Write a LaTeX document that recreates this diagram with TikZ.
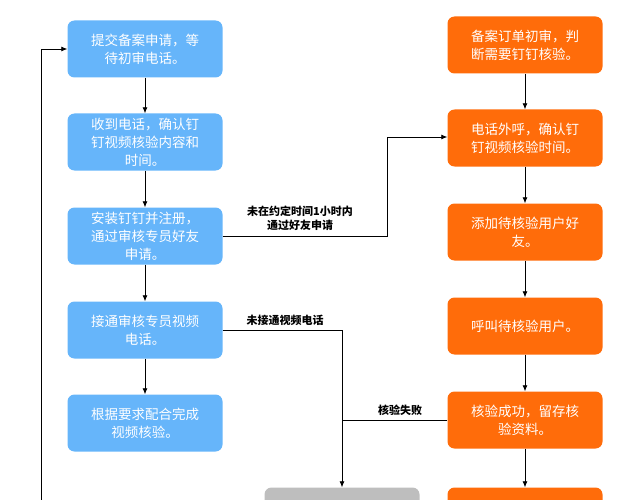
\documentclass[tikz,border=0pt]{standalone}
\usepackage{fontspec}
\setmainfont{Noto Sans CJK SC}
\usetikzlibrary{arrows.meta,positioning}
\definecolor{userblue}{RGB}{102,181,250}
\definecolor{audorange}{RGB}{255,108,10}
\definecolor{endgray}{RGB}{190,190,190}
\tikzset{
  stage/.style={rounded corners=7pt,minimum width=155pt,minimum height=57pt,
    align=center,text=white,font=\fontsize{13.5}{18}\selectfont,inner sep=2pt},
  user/.style={stage,fill=userblue},
  aud/.style={stage,fill=audorange},
  flow/.style={-{Latex[length=6pt,width=5pt]},line width=0.8pt},
  note/.style={font=\bfseries\fontsize{11}{14}\selectfont,align=center}
}
\begin{document}
\begin{tikzpicture}[x=1pt,y=-1pt]
  \useasboundingbox (0,0) rectangle (626,500);
  \clip (0,0) rectangle (626,500);

  % user column
  \node[user] (u1) at (145,49) {提交备案申请，等\\待初审电话。};
  \node[user] (u2) at (145,142) {收到电话，确认钉\\钉视频核验内容和\\时间。};
  \node[user] (u3) at (145,236) {安装钉钉并注册，\\通过审核专员好友\\申请。};
  \node[user] (u4) at (145,330) {接通审核专员视频\\电话。};
  \node[user] (u5) at (145,423) {根据要求配合完成\\视频核验。};

  % auditor column
  \node[aud] (a1) at (525,45) {备案订单初审，判\\断需要钉钉核验。};
  \node[aud] (a2) at (525,138) {电话外呼，确认钉\\钉视频核验时间。};
  \node[aud] (a3) at (525,232) {添加待核验用户好\\友。};
  \node[aud] (a4) at (525,326) {呼叫待核验用户。};
  \node[aud] (a5) at (525,420) {核验成功，留存核\\验资料。};
  \node[aud] (a6) at (525,516) {};
  \node[stage,fill=endgray] (g1) at (342,516) {};

  \foreach \p/\q in {u1/u2,u2/u3,u3/u4,u4/u5,a1/a2,a2/a3,a3/a4,a4/a5,a5/a6}
    \draw[flow] (\p) -- (\q);

  \coordinate (loop) at (41,510);
  \draw[flow] (loop) |- (u1.west);
  \draw[flow] (u3.east) -| (387,137) -- (a2.west |- 0,137);
  \draw[flow] (u4.east) -| (g1.north);
  \draw[line width=0.8pt] (a5.west) -- (342,420);

  \node[note] at (300,218) {未在约定时间1小时内\\通过好友申请};
  \node[note] at (285,320) {未接通视频电话};
  \node[note] at (400,410) {核验失败};
\end{tikzpicture}
\end{document}
